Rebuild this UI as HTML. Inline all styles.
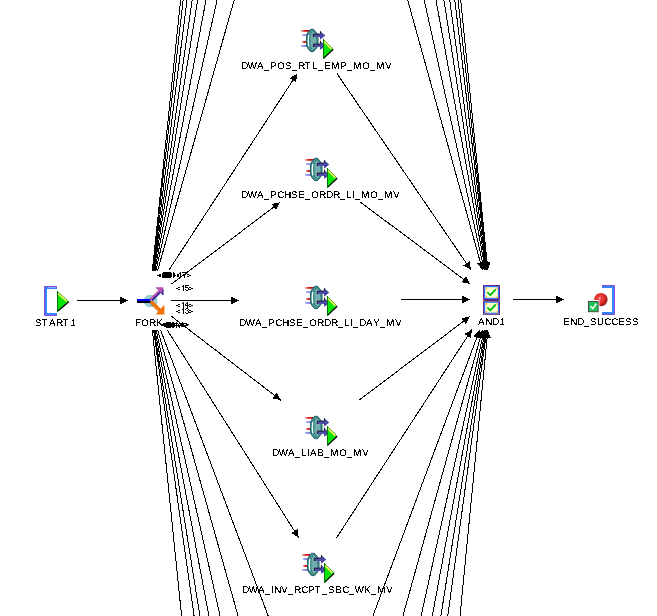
<!DOCTYPE html>
<html><head><meta charset="utf-8"><title>Process Flow</title><style>
html,body{margin:0;padding:0;background:#fff}
body{width:657px;height:616px;overflow:hidden;position:relative;font-family:"Liberation Sans",sans-serif;color:#000}
.edges{position:absolute;left:0;top:0}
.ic{position:absolute;overflow:visible}
.lbl{position:absolute;font-size:9.7px;text-rendering:geometricPrecision;line-height:12px;height:12px;white-space:nowrap;filter:url(#thr)}
.lbl span{display:inline-block}
.sm{position:absolute;font-size:8.4px;line-height:9px;white-space:nowrap;text-rendering:geometricPrecision;filter:url(#thr2)}
.sm span{display:inline-block}
</style></head><body>
<svg width="0" height="0" style="position:absolute"><defs>
<linearGradient id="gr" x1="0" x2="1" y1="0" y2="0"><stop offset="0" stop-color="#f4b0b0"/><stop offset="0.45" stop-color="#d82020"/><stop offset="1" stop-color="#b80000"/></linearGradient>
<linearGradient id="gb" x1="0" x2="1" y1="0" y2="0"><stop offset="0" stop-color="#b4b4f4"/><stop offset="1" stop-color="#5c5cd0"/></linearGradient>
<radialGradient id="ball" cx="0.42" cy="0.4" r="0.62"><stop offset="0" stop-color="#ffd0e0"/><stop offset="0.18" stop-color="#f04848"/><stop offset="0.6" stop-color="#dc2c24"/><stop offset="1" stop-color="#8c1c1c"/></radialGradient>
<filter id="thr" x="0" y="0" width="1" height="1" color-interpolation-filters="sRGB"><feComponentTransfer><feFuncA type="discrete" tableValues="0 0 1 1 1"/></feComponentTransfer></filter>
<filter id="thr2" x="0" y="0" width="1" height="1" color-interpolation-filters="sRGB"><feComponentTransfer><feFuncA type="discrete" tableValues="0 1 1 1"/></feComponentTransfer></filter>
</defs></svg>
<svg class="edges" width="657" height="616" viewBox="0 0 657 616" shape-rendering="crispEdges"><g stroke="#000" stroke-width="1" fill="#000"><line x1="152.35" y1="270.80" x2="180.81" y2="-2.00"/>
<line x1="152.59" y1="270.80" x2="183.33" y2="-2.00"/>
<line x1="152.97" y1="270.80" x2="187.25" y2="-2.00"/>
<line x1="153.47" y1="270.80" x2="192.39" y2="-2.00"/>
<line x1="154.01" y1="270.80" x2="198.02" y2="-2.00"/>
<line x1="154.82" y1="270.80" x2="206.38" y2="-2.00"/>
<line x1="155.90" y1="270.80" x2="217.55" y2="-2.00"/>
<line x1="157.56" y1="270.80" x2="234.77" y2="-2.00"/>
<line x1="152.37" y1="330.00" x2="181.80" y2="618.00"/>
<line x1="153.55" y1="330.00" x2="194.38" y2="618.00"/>
<line x1="154.10" y1="330.00" x2="200.22" y2="618.00"/>
<line x1="154.96" y1="330.00" x2="209.28" y2="618.00"/>
<line x1="156.02" y1="330.00" x2="220.55" y2="618.00"/>
<line x1="157.73" y1="330.00" x2="238.66" y2="618.00"/>
<line x1="160.59" y1="330.00" x2="268.95" y2="618.00"/>
<line x1="407.15" y1="-2.00" x2="482.49" y2="270.00"/>
<polygon stroke="none" points="482.44,269.81 476.69,263.30 484.02,261.28"/>
<line x1="423.76" y1="-2.00" x2="484.14" y2="270.00"/>
<polygon stroke="none" points="484.10,269.80 478.70,263.01 486.12,261.37"/>
<line x1="435.63" y1="-2.00" x2="485.32" y2="270.00"/>
<polygon stroke="none" points="485.28,269.80 480.14,262.81 487.62,261.45"/>
<line x1="443.59" y1="-2.00" x2="486.11" y2="270.00"/>
<polygon stroke="none" points="486.08,269.80 481.12,262.68 488.63,261.51"/>
<line x1="449.43" y1="-2.00" x2="486.69" y2="270.00"/>
<polygon stroke="none" points="486.66,269.80 481.84,262.59 489.37,261.56"/>
<line x1="454.56" y1="-2.00" x2="487.20" y2="270.00"/>
<polygon stroke="none" points="487.18,269.80 482.47,262.51 490.02,261.60"/>
<line x1="457.78" y1="-2.00" x2="487.52" y2="270.00"/>
<polygon stroke="none" points="487.50,269.80 482.87,262.46 490.43,261.63"/>
<line x1="460.50" y1="-2.00" x2="487.79" y2="270.00"/>
<polygon stroke="none" points="487.77,269.80 483.21,262.42 490.77,261.66"/>
<line x1="372.15" y1="618.00" x2="479.61" y2="330.00"/>
<polygon stroke="none" points="479.54,330.19 480.37,338.82 473.25,336.17"/>
<line x1="402.34" y1="618.00" x2="482.46" y2="330.00"/>
<polygon stroke="none" points="482.40,330.19 483.97,338.73 476.65,336.69"/>
<line x1="420.66" y1="618.00" x2="484.18" y2="330.00"/>
<polygon stroke="none" points="484.14,330.20 486.17,338.63 478.75,336.99"/>
<line x1="431.93" y1="618.00" x2="485.25" y2="330.00"/>
<polygon stroke="none" points="485.21,330.20 487.53,338.56 480.05,337.17"/>
<line x1="440.58" y1="618.00" x2="486.06" y2="330.00"/>
<polygon stroke="none" points="486.03,330.20 488.57,338.49 481.06,337.31"/>
<line x1="447.53" y1="618.00" x2="486.72" y2="330.00"/>
<polygon stroke="none" points="486.69,330.20 489.40,338.44 481.87,337.41"/>
<line x1="459.81" y1="618.00" x2="487.88" y2="330.00"/>
<polygon stroke="none" points="487.86,330.20 490.88,338.33 483.32,337.59"/>
<line x1="168.70" y1="270.40" x2="297.30" y2="73.50"/>
<polygon stroke="none" points="297.19,73.67 296.11,82.28 289.74,78.12"/>
<line x1="171.50" y1="284.00" x2="280.20" y2="202.30"/>
<polygon stroke="none" points="280.04,202.42 276.09,210.14 271.52,204.07"/>
<line x1="171.00" y1="300.50" x2="239.00" y2="300.50"/>
<polygon stroke="none" points="238.80,300.50 231.00,304.30 231.00,296.70"/>
<line x1="171.50" y1="316.30" x2="281.00" y2="400.30"/>
<polygon stroke="none" points="280.84,400.18 272.34,398.45 276.97,392.42"/>
<line x1="167.20" y1="330.00" x2="298.70" y2="537.70"/>
<polygon stroke="none" points="298.59,537.53 291.21,532.97 297.63,528.91"/>
<line x1="336.90" y1="73.50" x2="471.00" y2="270.00"/>
<polygon stroke="none" points="470.89,269.83 463.35,265.53 469.63,261.25"/>
<line x1="360.50" y1="202.20" x2="470.00" y2="284.00"/>
<polygon stroke="none" points="469.84,283.88 461.32,282.26 465.87,276.17"/>
<line x1="401.40" y1="299.50" x2="470.00" y2="299.50"/>
<polygon stroke="none" points="469.80,299.50 462.00,303.30 462.00,295.70"/>
<line x1="359.30" y1="400.00" x2="470.00" y2="316.40"/>
<polygon stroke="none" points="469.84,316.52 465.91,324.25 461.33,318.19"/>
<line x1="336.60" y1="537.70" x2="472.00" y2="329.50"/>
<polygon stroke="none" points="471.89,329.67 470.82,338.28 464.45,334.13"/>
<line x1="77.00" y1="300.50" x2="128.00" y2="300.50"/>
<polygon stroke="none" points="127.80,300.50 120.00,304.30 120.00,296.70"/>
<line x1="513.00" y1="299.50" x2="564.00" y2="299.50"/>
<polygon stroke="none" points="563.80,299.50 556.00,303.30 556.00,295.70"/></g></svg>
<svg class="ic" style="left:300px;top:27px" width="36" height="34" viewBox="-1 -2 36 34"><rect x="0" y="1" width="8" height="1.8" fill="url(#gr)"/><rect x="1" y="5.2" width="6" height="1.8" fill="url(#gb)"/><rect x="1" y="12" width="5" height="1.9" fill="url(#gr)"/><rect x="0" y="16" width="7" height="1.9" fill="url(#gb)"/><path d="M9.5 0.3 H12.5 L16 4.5 L17 8 V15 L16 18.5 L12.5 22.6 H9.5 L6.6 19 L5.5 15 V8 L6.6 4 Z" fill="#4a9292" stroke="#1a5e5e" stroke-width="1" stroke-linejoin="round"/><path d="M11.3 2 H12.6 L15 5.2 L15.8 8.2 V14.8 L15 17.8 L12.6 21 H11.3 L9.6 18 L9 14.8 V8.2 L9.6 5 Z" fill="#72adad" stroke="#2c7a7a" stroke-width="0.7"/><path d="M7.7 6 Q6.8 11.3 7.7 17.4" stroke="#f0ffff" stroke-width="1.2" fill="none"/><rect x="12" y="4.8" width="8" height="3.2" fill="#5050ac"/><path d="M12.4 8 V5.2 H19.6" stroke="#1c1c30" stroke-width="1" fill="none"/><polygon points="19,2.1 24.3,6.4 19,10.7" fill="#4848a4"/><line x1="19.4" y1="2.1" x2="19.4" y2="4.9" stroke="#1c1c30"/><rect x="12" y="14.8" width="8" height="3.2" fill="#5050ac"/><path d="M12.4 18 V15.2 H19.6" stroke="#1c1c30" stroke-width="1" fill="none"/><polygon points="19,11.8 22,14.4 22,18.9 19,20.8" fill="#4848a4"/><line x1="19.4" y1="11.8" x2="19.4" y2="14.9" stroke="#1c1c30"/><polygon points="22,10 32,20 22,30" fill="#08e408"/><line x1="23.2" y1="12.6" x2="30.4" y2="19.8" stroke="#f8f850" stroke-width="1.7"/><line x1="22.5" y1="10.5" x2="32" y2="20" stroke="#087008" stroke-width="1" stroke-dasharray="1.4 1.4"/><line x1="22.3" y1="29.6" x2="32.2" y2="20.2" stroke="#000" stroke-width="1.3"/><line x1="22.5" y1="10" x2="22.5" y2="30" stroke="#087808" stroke-width="1"/></svg>
<div class="lbl" style="left:241px;top:60.53px"><span style="width:7px;text-indent:0.25px">D</span><span style="width:9px;text-indent:-0.25px">W</span><span style="width:7px">A</span><span style="width:6px">_</span><span style="width:7px;text-indent:0.25px">P</span><span style="width:8px;text-indent:0.25px">O</span><span style="width:7px">S</span><span style="width:6px">_</span><span style="width:7px;text-indent:0.25px">R</span><span style="width:7px;text-indent:-0.5px">T</span><span style="width:6px;text-indent:0.25px">L</span><span style="width:6px">_</span><span style="width:7px;text-indent:0.25px">E</span><span style="width:9px;text-indent:0.25px">M</span><span style="width:7px;text-indent:0.25px">P</span><span style="width:6px">_</span><span style="width:9px;text-indent:0.25px">M</span><span style="width:8px;text-indent:0.25px">O</span><span style="width:6px">_</span><span style="width:9px;text-indent:0.25px">M</span><span style="width:7px;text-indent:0.25px">V</span></div>
<svg class="ic" style="left:304px;top:156px" width="36" height="34" viewBox="-1 -2 36 34"><rect x="0" y="1" width="8" height="1.8" fill="url(#gr)"/><rect x="1" y="5.2" width="6" height="1.8" fill="url(#gb)"/><rect x="1" y="12" width="5" height="1.9" fill="url(#gr)"/><rect x="0" y="16" width="7" height="1.9" fill="url(#gb)"/><path d="M9.5 0.3 H12.5 L16 4.5 L17 8 V15 L16 18.5 L12.5 22.6 H9.5 L6.6 19 L5.5 15 V8 L6.6 4 Z" fill="#4a9292" stroke="#1a5e5e" stroke-width="1" stroke-linejoin="round"/><path d="M11.3 2 H12.6 L15 5.2 L15.8 8.2 V14.8 L15 17.8 L12.6 21 H11.3 L9.6 18 L9 14.8 V8.2 L9.6 5 Z" fill="#72adad" stroke="#2c7a7a" stroke-width="0.7"/><path d="M7.7 6 Q6.8 11.3 7.7 17.4" stroke="#f0ffff" stroke-width="1.2" fill="none"/><rect x="12" y="4.8" width="8" height="3.2" fill="#5050ac"/><path d="M12.4 8 V5.2 H19.6" stroke="#1c1c30" stroke-width="1" fill="none"/><polygon points="19,2.1 24.3,6.4 19,10.7" fill="#4848a4"/><line x1="19.4" y1="2.1" x2="19.4" y2="4.9" stroke="#1c1c30"/><rect x="12" y="14.8" width="8" height="3.2" fill="#5050ac"/><path d="M12.4 18 V15.2 H19.6" stroke="#1c1c30" stroke-width="1" fill="none"/><polygon points="19,11.8 22,14.4 22,18.9 19,20.8" fill="#4848a4"/><line x1="19.4" y1="11.8" x2="19.4" y2="14.9" stroke="#1c1c30"/><polygon points="22,10 32,20 22,30" fill="#08e408"/><line x1="23.2" y1="12.6" x2="30.4" y2="19.8" stroke="#f8f850" stroke-width="1.7"/><line x1="22.5" y1="10.5" x2="32" y2="20" stroke="#087008" stroke-width="1" stroke-dasharray="1.4 1.4"/><line x1="22.3" y1="29.6" x2="32.2" y2="20.2" stroke="#000" stroke-width="1.3"/><line x1="22.5" y1="10" x2="22.5" y2="30" stroke="#087808" stroke-width="1"/></svg>
<div class="lbl" style="left:241px;top:189.53px"><span style="width:7px;text-indent:0.25px">D</span><span style="width:9px;text-indent:-0.25px">W</span><span style="width:7px">A</span><span style="width:6px">_</span><span style="width:7px;text-indent:0.25px">P</span><span style="width:7px;text-indent:0.25px">C</span><span style="width:7px;text-indent:0.25px">H</span><span style="width:7px">S</span><span style="width:7px;text-indent:0.25px">E</span><span style="width:6px">_</span><span style="width:8px;text-indent:0.25px">O</span><span style="width:7px;text-indent:0.25px">R</span><span style="width:7px;text-indent:0.25px">D</span><span style="width:7px;text-indent:0.25px">R</span><span style="width:6px">_</span><span style="width:6px;text-indent:0.25px">L</span><span style="width:3px">I</span><span style="width:6px">_</span><span style="width:9px;text-indent:0.25px">M</span><span style="width:8px;text-indent:0.25px">O</span><span style="width:6px">_</span><span style="width:9px;text-indent:0.25px">M</span><span style="width:7px;text-indent:0.25px">V</span></div>
<svg class="ic" style="left:304px;top:284px" width="36" height="34" viewBox="-1 -2 36 34"><rect x="0" y="1" width="8" height="1.8" fill="url(#gr)"/><rect x="1" y="5.2" width="6" height="1.8" fill="url(#gb)"/><rect x="1" y="12" width="5" height="1.9" fill="url(#gr)"/><rect x="0" y="16" width="7" height="1.9" fill="url(#gb)"/><path d="M9.5 0.3 H12.5 L16 4.5 L17 8 V15 L16 18.5 L12.5 22.6 H9.5 L6.6 19 L5.5 15 V8 L6.6 4 Z" fill="#4a9292" stroke="#1a5e5e" stroke-width="1" stroke-linejoin="round"/><path d="M11.3 2 H12.6 L15 5.2 L15.8 8.2 V14.8 L15 17.8 L12.6 21 H11.3 L9.6 18 L9 14.8 V8.2 L9.6 5 Z" fill="#72adad" stroke="#2c7a7a" stroke-width="0.7"/><path d="M7.7 6 Q6.8 11.3 7.7 17.4" stroke="#f0ffff" stroke-width="1.2" fill="none"/><rect x="12" y="4.8" width="8" height="3.2" fill="#5050ac"/><path d="M12.4 8 V5.2 H19.6" stroke="#1c1c30" stroke-width="1" fill="none"/><polygon points="19,2.1 24.3,6.4 19,10.7" fill="#4848a4"/><line x1="19.4" y1="2.1" x2="19.4" y2="4.9" stroke="#1c1c30"/><rect x="12" y="14.8" width="8" height="3.2" fill="#5050ac"/><path d="M12.4 18 V15.2 H19.6" stroke="#1c1c30" stroke-width="1" fill="none"/><polygon points="19,11.8 22,14.4 22,18.9 19,20.8" fill="#4848a4"/><line x1="19.4" y1="11.8" x2="19.4" y2="14.9" stroke="#1c1c30"/><polygon points="22,10 32,20 22,30" fill="#08e408"/><line x1="23.2" y1="12.6" x2="30.4" y2="19.8" stroke="#f8f850" stroke-width="1.7"/><line x1="22.5" y1="10.5" x2="32" y2="20" stroke="#087008" stroke-width="1" stroke-dasharray="1.4 1.4"/><line x1="22.3" y1="29.6" x2="32.2" y2="20.2" stroke="#000" stroke-width="1.3"/><line x1="22.5" y1="10" x2="22.5" y2="30" stroke="#087808" stroke-width="1"/></svg>
<div class="lbl" style="left:239px;top:317.53px"><span style="width:7px;text-indent:0.25px">D</span><span style="width:9px;text-indent:-0.25px">W</span><span style="width:7px">A</span><span style="width:6px">_</span><span style="width:7px;text-indent:0.25px">P</span><span style="width:7px;text-indent:0.25px">C</span><span style="width:7px;text-indent:0.25px">H</span><span style="width:7px">S</span><span style="width:7px;text-indent:0.25px">E</span><span style="width:6px">_</span><span style="width:8px;text-indent:0.25px">O</span><span style="width:7px;text-indent:0.25px">R</span><span style="width:7px;text-indent:0.25px">D</span><span style="width:7px;text-indent:0.25px">R</span><span style="width:6px">_</span><span style="width:6px;text-indent:0.25px">L</span><span style="width:3px">I</span><span style="width:6px">_</span><span style="width:7px;text-indent:0.25px">D</span><span style="width:7px">A</span><span style="width:7px;text-indent:0.25px">Y</span><span style="width:6px">_</span><span style="width:9px;text-indent:0.25px">M</span><span style="width:7px;text-indent:0.25px">V</span></div>
<svg class="ic" style="left:304px;top:414px" width="36" height="34" viewBox="-1 -2 36 34"><rect x="0" y="1" width="8" height="1.8" fill="url(#gr)"/><rect x="1" y="5.2" width="6" height="1.8" fill="url(#gb)"/><rect x="1" y="12" width="5" height="1.9" fill="url(#gr)"/><rect x="0" y="16" width="7" height="1.9" fill="url(#gb)"/><path d="M9.5 0.3 H12.5 L16 4.5 L17 8 V15 L16 18.5 L12.5 22.6 H9.5 L6.6 19 L5.5 15 V8 L6.6 4 Z" fill="#4a9292" stroke="#1a5e5e" stroke-width="1" stroke-linejoin="round"/><path d="M11.3 2 H12.6 L15 5.2 L15.8 8.2 V14.8 L15 17.8 L12.6 21 H11.3 L9.6 18 L9 14.8 V8.2 L9.6 5 Z" fill="#72adad" stroke="#2c7a7a" stroke-width="0.7"/><path d="M7.7 6 Q6.8 11.3 7.7 17.4" stroke="#f0ffff" stroke-width="1.2" fill="none"/><rect x="12" y="4.8" width="8" height="3.2" fill="#5050ac"/><path d="M12.4 8 V5.2 H19.6" stroke="#1c1c30" stroke-width="1" fill="none"/><polygon points="19,2.1 24.3,6.4 19,10.7" fill="#4848a4"/><line x1="19.4" y1="2.1" x2="19.4" y2="4.9" stroke="#1c1c30"/><rect x="12" y="14.8" width="8" height="3.2" fill="#5050ac"/><path d="M12.4 18 V15.2 H19.6" stroke="#1c1c30" stroke-width="1" fill="none"/><polygon points="19,11.8 22,14.4 22,18.9 19,20.8" fill="#4848a4"/><line x1="19.4" y1="11.8" x2="19.4" y2="14.9" stroke="#1c1c30"/><polygon points="22,10 32,20 22,30" fill="#08e408"/><line x1="23.2" y1="12.6" x2="30.4" y2="19.8" stroke="#f8f850" stroke-width="1.7"/><line x1="22.5" y1="10.5" x2="32" y2="20" stroke="#087008" stroke-width="1" stroke-dasharray="1.4 1.4"/><line x1="22.3" y1="29.6" x2="32.2" y2="20.2" stroke="#000" stroke-width="1.3"/><line x1="22.5" y1="10" x2="22.5" y2="30" stroke="#087808" stroke-width="1"/></svg>
<div class="lbl" style="left:272px;top:447.53px"><span style="width:7px;text-indent:0.25px">D</span><span style="width:9px;text-indent:-0.25px">W</span><span style="width:7px">A</span><span style="width:6px">_</span><span style="width:6px;text-indent:0.25px">L</span><span style="width:3px">I</span><span style="width:7px">A</span><span style="width:7px;text-indent:0.25px">B</span><span style="width:6px">_</span><span style="width:9px;text-indent:0.25px">M</span><span style="width:8px;text-indent:0.25px">O</span><span style="width:6px">_</span><span style="width:9px;text-indent:0.25px">M</span><span style="width:7px;text-indent:0.25px">V</span></div>
<svg class="ic" style="left:301px;top:551px" width="36" height="34" viewBox="-1 -2 36 34"><rect x="0" y="1" width="8" height="1.8" fill="url(#gr)"/><rect x="1" y="5.2" width="6" height="1.8" fill="url(#gb)"/><rect x="1" y="12" width="5" height="1.9" fill="url(#gr)"/><rect x="0" y="16" width="7" height="1.9" fill="url(#gb)"/><path d="M9.5 0.3 H12.5 L16 4.5 L17 8 V15 L16 18.5 L12.5 22.6 H9.5 L6.6 19 L5.5 15 V8 L6.6 4 Z" fill="#4a9292" stroke="#1a5e5e" stroke-width="1" stroke-linejoin="round"/><path d="M11.3 2 H12.6 L15 5.2 L15.8 8.2 V14.8 L15 17.8 L12.6 21 H11.3 L9.6 18 L9 14.8 V8.2 L9.6 5 Z" fill="#72adad" stroke="#2c7a7a" stroke-width="0.7"/><path d="M7.7 6 Q6.8 11.3 7.7 17.4" stroke="#f0ffff" stroke-width="1.2" fill="none"/><rect x="12" y="4.8" width="8" height="3.2" fill="#5050ac"/><path d="M12.4 8 V5.2 H19.6" stroke="#1c1c30" stroke-width="1" fill="none"/><polygon points="19,2.1 24.3,6.4 19,10.7" fill="#4848a4"/><line x1="19.4" y1="2.1" x2="19.4" y2="4.9" stroke="#1c1c30"/><rect x="12" y="14.8" width="8" height="3.2" fill="#5050ac"/><path d="M12.4 18 V15.2 H19.6" stroke="#1c1c30" stroke-width="1" fill="none"/><polygon points="19,11.8 22,14.4 22,18.9 19,20.8" fill="#4848a4"/><line x1="19.4" y1="11.8" x2="19.4" y2="14.9" stroke="#1c1c30"/><polygon points="22,10 32,20 22,30" fill="#08e408"/><line x1="23.2" y1="12.6" x2="30.4" y2="19.8" stroke="#f8f850" stroke-width="1.7"/><line x1="22.5" y1="10.5" x2="32" y2="20" stroke="#087008" stroke-width="1" stroke-dasharray="1.4 1.4"/><line x1="22.3" y1="29.6" x2="32.2" y2="20.2" stroke="#000" stroke-width="1.3"/><line x1="22.5" y1="10" x2="22.5" y2="30" stroke="#087808" stroke-width="1"/></svg>
<div class="lbl" style="left:242px;top:584.53px"><span style="width:7px;text-indent:0.25px">D</span><span style="width:9px;text-indent:-0.25px">W</span><span style="width:7px">A</span><span style="width:6px">_</span><span style="width:3px">I</span><span style="width:7px;text-indent:0.25px">N</span><span style="width:7px;text-indent:0.25px">V</span><span style="width:6px">_</span><span style="width:7px;text-indent:0.25px">R</span><span style="width:7px;text-indent:0.25px">C</span><span style="width:7px;text-indent:0.25px">P</span><span style="width:7px;text-indent:-0.5px">T</span><span style="width:6px">_</span><span style="width:7px">S</span><span style="width:7px;text-indent:0.25px">B</span><span style="width:7px;text-indent:0.25px">C</span><span style="width:6px">_</span><span style="width:9px;text-indent:-0.25px">W</span><span style="width:7px;text-indent:0.25px">K</span><span style="width:6px">_</span><span style="width:9px;text-indent:0.25px">M</span><span style="width:7px;text-indent:0.25px">V</span></div>
<svg class="ic" style="left:44px;top:286px" width="30" height="32" viewBox="0 0 30 32"><path d="M13 0.5 H0.5 V29.5 H13" stroke="#8848d8" stroke-width="1" fill="none"/><path d="M13 2 H2 V28 H13" stroke="#3484ff" stroke-width="2" fill="none"/><rect x="4" y="1" width="8" height="1" fill="#78b8ff"/><polygon points="13,5 24.6,15.5 13,26" fill="#08e408"/><line x1="14.2" y1="7.6" x2="23" y2="15.3" stroke="#f8f850" stroke-width="1.7"/><line x1="13.5" y1="5.5" x2="24.6" y2="15.5" stroke="#087008" stroke-width="1" stroke-dasharray="1.4 1.4"/><line x1="13.3" y1="25.6" x2="24.8" y2="15.7" stroke="#000" stroke-width="1.3"/><line x1="13.5" y1="5" x2="13.5" y2="26" stroke="#087808" stroke-width="1"/></svg>
<div class="lbl" style="left:35px;top:317.53px"><span style="width:7px">S</span><span style="width:7px;text-indent:-0.5px">T</span><span style="width:7px">A</span><span style="width:7px;text-indent:0.25px">R</span><span style="width:7px;text-indent:-0.5px">T</span><span style="width:6px;text-indent:0.5px">1</span></div>
<svg class="ic" style="left:135px;top:285px" width="32" height="32" viewBox="135 285 32 32"><polygon points="144,298.5 147.4,295 154,295 157.2,298.5 157.2,303.6 154,307 147.4,307 144,303.6" fill="#98d0d0"/><line x1="150.8" y1="301.2" x2="161" y2="311.4" stroke="#f47000" stroke-width="3.4"/><line x1="149.6" y1="303.2" x2="158.6" y2="312" stroke="#8a3800" stroke-width="1" stroke-dasharray="1 1"/><polygon points="164.4,304.8 164.4,314.4 155.6,314.4" fill="#f47000"/><line x1="150.6" y1="299.6" x2="160.4" y2="289.8" stroke="#c050b4" stroke-width="2.2"/><line x1="152.2" y1="300.4" x2="161.6" y2="291" stroke="#1c1c94" stroke-width="1.5"/><polygon points="155.2,287.2 163.2,287.2 163.2,295" fill="#b850b4"/><path d="M163 289 V295 L161.2 292.4" stroke="#1c1c94" stroke-width="1" fill="none"/><rect x="137" y="299" width="13.4" height="2" fill="#0000ff"/><rect x="137" y="301" width="13.4" height="2" fill="#000018"/></svg>
<div class="lbl" style="left:135px;top:317.53px"><span style="width:6px;text-indent:0.25px">F</span><span style="width:8px;text-indent:0.25px">O</span><span style="width:7px;text-indent:0.25px">R</span><span style="width:7px;text-indent:0.25px">K</span></div>
<svg class="ic" style="left:482px;top:284px" width="20" height="32" viewBox="482 284 20 32"><rect x="483.5" y="285.5" width="16" height="14" fill="#ffb848" stroke="#602888" stroke-width="1"/><rect x="484.6" y="286.6" width="13.8" height="11.8" fill="#ffffc4" stroke="#3474ff" stroke-width="1.2"/><rect x="485.6" y="287.6" width="1.6" height="1.6" fill="#ffae3c"/><rect x="496.4" y="287.6" width="1.6" height="1.6" fill="#ffae3c"/><rect x="485.6" y="296.4" width="1.6" height="1.6" fill="#ffae3c"/><rect x="496.4" y="296.4" width="1.6" height="1.6" fill="#ffae3c"/><path d="M487.3 292.1 L490.3 295.1 L495.7 289.3" stroke="#ffffff" stroke-width="3.6" fill="none" opacity="0.85"/><path d="M487.3 292.1 L490.3 295.1 L495.7 289.3" stroke="#00c000" stroke-width="1.9" fill="none"/><rect x="483.5" y="301.1" width="16" height="13.2" fill="#ffb848" stroke="#602888" stroke-width="1"/><rect x="484.6" y="302.2" width="13.8" height="11" fill="#ffffc4" stroke="#3474ff" stroke-width="1.2"/><rect x="485.6" y="303.2" width="1.6" height="1.6" fill="#ffae3c"/><rect x="496.4" y="303.2" width="1.6" height="1.6" fill="#ffae3c"/><rect x="485.6" y="311.2" width="1.6" height="1.6" fill="#ffae3c"/><rect x="496.4" y="311.2" width="1.6" height="1.6" fill="#ffae3c"/><path d="M487.3 307.3 L490.3 310.3 L495.7 304.5" stroke="#ffffff" stroke-width="3.6" fill="none" opacity="0.85"/><path d="M487.3 307.3 L490.3 310.3 L495.7 304.5" stroke="#00c000" stroke-width="1.9" fill="none"/><rect x="484" y="300" width="15" height="1" fill="#602060"/></svg>
<div class="lbl" style="left:478px;top:316.53px"><span style="width:7px">A</span><span style="width:7px;text-indent:0.25px">N</span><span style="width:7px;text-indent:0.25px">D</span><span style="width:6px;text-indent:0.5px">1</span></div>
<svg class="ic" style="left:586px;top:284px" width="32" height="32" viewBox="586 284 32 32"><path d="M602 285.5 H614.5 V314.5 H602" stroke="#8848d8" stroke-width="1" fill="none"/><path d="M602 287 H613 V313 H602" stroke="#3484ff" stroke-width="2" fill="none"/><circle cx="600.9" cy="299.6" r="6.7" fill="url(#ball)"/><rect x="587" y="300" width="12.4" height="13" fill="#fff"/><rect x="588.5" y="301.5" width="9.6" height="10.2" fill="#22c456" stroke="#484848" stroke-width="1"/><path d="M590.5 306.3 L592.7 308.6 L596.4 303.8" stroke="#fff" stroke-width="1.5" fill="none"/></svg>
<div class="lbl" style="left:563px;top:316.53px"><span style="width:7px;text-indent:0.25px">E</span><span style="width:7px;text-indent:0.25px">N</span><span style="width:7px;text-indent:0.25px">D</span><span style="width:6px">_</span><span style="width:7px">S</span><span style="width:7px">U</span><span style="width:7px;text-indent:0.25px">C</span><span style="width:7px;text-indent:0.25px">C</span><span style="width:7px;text-indent:0.25px">E</span><span style="width:7px">S</span><span style="width:7px">S</span></div>
<svg class="edges" width="657" height="616" viewBox="0 0 657 616" shape-rendering="crispEdges"><g fill="#000"><rect x="178" y="287" width="2" height="1"/><rect x="176" y="288" width="2" height="1"/><rect x="178" y="289" width="2" height="1"/><rect x="183" y="285" width="1" height="1"/><rect x="182" y="286" width="2" height="1"/><rect x="183" y="287" width="1" height="1"/><rect x="183" y="288" width="1" height="1"/><rect x="183" y="289" width="1" height="1"/><rect x="183" y="290" width="1" height="1"/><rect x="185" y="285" width="4" height="1"/><rect x="185" y="286" width="1" height="1"/><rect x="185" y="287" width="3" height="1"/><rect x="188" y="288" width="1" height="1"/><rect x="185" y="289" width="1" height="1"/><rect x="188" y="289" width="1" height="1"/><rect x="186" y="290" width="2" height="1"/><rect x="189" y="287" width="2" height="1"/><rect x="191" y="288" width="2" height="1"/><rect x="189" y="289" width="2" height="1"/><rect x="178" y="304" width="2" height="1"/><rect x="176" y="305" width="2" height="1"/><rect x="178" y="306" width="2" height="1"/><rect x="183" y="302" width="1" height="1"/><rect x="182" y="303" width="2" height="1"/><rect x="183" y="304" width="1" height="1"/><rect x="183" y="305" width="1" height="1"/><rect x="183" y="306" width="1" height="1"/><rect x="183" y="307" width="1" height="1"/><rect x="187" y="302" width="1" height="1"/><rect x="186" y="303" width="2" height="1"/><rect x="185" y="304" width="1" height="1"/><rect x="187" y="304" width="1" height="1"/><rect x="185" y="305" width="4" height="1"/><rect x="187" y="306" width="1" height="1"/><rect x="187" y="307" width="1" height="1"/><rect x="189" y="304" width="2" height="1"/><rect x="191" y="305" width="2" height="1"/><rect x="189" y="306" width="2" height="1"/><rect x="178" y="310" width="2" height="1"/><rect x="176" y="311" width="2" height="1"/><rect x="178" y="312" width="2" height="1"/><rect x="183" y="308" width="1" height="1"/><rect x="182" y="309" width="2" height="1"/><rect x="183" y="310" width="1" height="1"/><rect x="183" y="311" width="1" height="1"/><rect x="183" y="312" width="1" height="1"/><rect x="183" y="313" width="1" height="1"/><rect x="186" y="308" width="2" height="1"/><rect x="185" y="309" width="1" height="1"/><rect x="188" y="309" width="1" height="1"/><rect x="187" y="310" width="1" height="1"/><rect x="188" y="311" width="1" height="1"/><rect x="185" y="312" width="1" height="1"/><rect x="188" y="312" width="1" height="1"/><rect x="186" y="313" width="2" height="1"/><rect x="189" y="310" width="2" height="1"/><rect x="191" y="311" width="2" height="1"/><rect x="189" y="312" width="2" height="1"/><rect x="163" y="272" width="8" height="1"/><rect x="173" y="272" width="1" height="1"/><rect x="180" y="272" width="1" height="1"/><rect x="182" y="272" width="5" height="1"/><rect x="162" y="273" width="10" height="1"/><rect x="173" y="273" width="2" height="1"/><rect x="179" y="273" width="2" height="1"/><rect x="186" y="273" width="1" height="1"/><rect x="159" y="274" width="2" height="1"/><rect x="162" y="274" width="10" height="1"/><rect x="173" y="274" width="2" height="1"/><rect x="177" y="274" width="2" height="1"/><rect x="180" y="274" width="1" height="1"/><rect x="185" y="274" width="1" height="1"/><rect x="187" y="274" width="2" height="1"/><rect x="157" y="275" width="4" height="1"/><rect x="162" y="275" width="10" height="1"/><rect x="173" y="275" width="3" height="1"/><rect x="177" y="275" width="2" height="1"/><rect x="180" y="275" width="1" height="1"/><rect x="184" y="275" width="1" height="1"/><rect x="189" y="275" width="2" height="1"/><rect x="159" y="276" width="2" height="1"/><rect x="162" y="276" width="10" height="1"/><rect x="173" y="276" width="2" height="1"/><rect x="177" y="276" width="2" height="1"/><rect x="180" y="276" width="1" height="1"/><rect x="184" y="276" width="1" height="1"/><rect x="187" y="276" width="2" height="1"/><rect x="162" y="277" width="9" height="1"/><rect x="173" y="277" width="1" height="1"/><rect x="180" y="277" width="1" height="1"/><rect x="184" y="277" width="1" height="1"/><rect x="166" y="322" width="5" height="1"/><rect x="172" y="322" width="2" height="1"/><rect x="176" y="322" width="1" height="1"/><rect x="179" y="322" width="1" height="1"/><rect x="182" y="322" width="1" height="1"/><rect x="163" y="323" width="15" height="1"/><rect x="179" y="323" width="2" height="1"/><rect x="182" y="323" width="5" height="1"/><rect x="160" y="324" width="15" height="1"/><rect x="176" y="324" width="1" height="1"/><rect x="178" y="324" width="1" height="1"/><rect x="180" y="324" width="2" height="1"/><rect x="183" y="324" width="1" height="1"/><rect x="186" y="324" width="3" height="1"/><rect x="161" y="325" width="27" height="1"/><rect x="164" y="326" width="11" height="1"/><rect x="176" y="326" width="1" height="1"/><rect x="178" y="326" width="2" height="1"/><rect x="181" y="326" width="5" height="1"/><rect x="166" y="327" width="5" height="1"/><rect x="172" y="327" width="2" height="1"/><rect x="176" y="327" width="1" height="1"/><rect x="179" y="327" width="1" height="1"/></g></svg>
</body></html>
